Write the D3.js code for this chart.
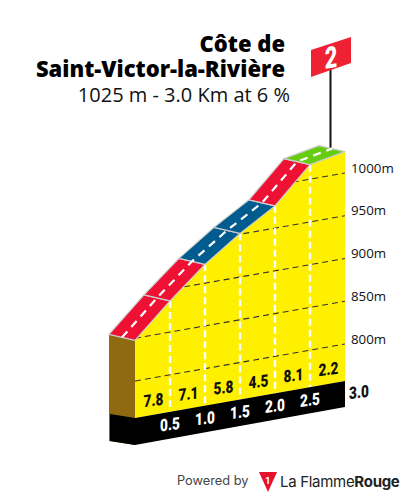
<!DOCTYPE html>
<html><head><meta charset="utf-8">
<script src="https://cdn.jsdelivr.net/npm/d3@7"></script>
<style>html,body{margin:0;padding:0;background:#fff}svg{display:block}</style></head>
<body><div id="c"></div>
<script>
const distances=[0,0.5,1.0,1.5,2.0,2.5,3.0];
const elevations=[847.5,886.5,922,951,976,1017,1025];
const gradientLabels=["7.8","7.1","5.8","4.5","8.1","2.2"];
const segmentClasses=["red","red","blue","blue","red","green"];
const distanceLabels=["0.5","1.0","1.5","2.0","2.5","3.0"];
const elevationTicks=[800,850,900,950,1000];
const titleLines=["Côte de","Saint-Victor-la-Rivière"];
const subtitle="1025 m - 3.0 Km at 6 %";
const climbCategory="2";

const W=405,H=498;
const colors={red:"#ee1133",blue:"#005b8f",green:"#66cc11"};
const svg=d3.select("#c").append("svg").attr("width",W).attr("height",H);
const x=d3.scaleLinear().domain([0,3]).range([135,345]);
const tilt=d3.scaleLinear().domain([0,3]).range([37,0]);
const yRight=d3.scaleLinear().domain([800,1000]).range([344,173]);
const baseElev=yRight.invert(381);
const px=(d,e)=>[x(d),yRight(e)+tilt(d)];
const back=([a,b])=>[a-26,b-6];
const pts=distances.map((d,i)=>px(d,elevations[i]));
const base=distances.map(d=>px(d,baseElev));
const line=d3.line();
const poly=p=>line(p)+"Z";

// front yellow
svg.append("clipPath").attr("id","yc").append("path").attr("d",poly(pts.concat(base.slice().reverse())));
svg.append("path").attr("d",poly(pts.concat(base.slice().reverse()))).attr("fill","#fff000");

// grid
const g=svg.append("g").attr("clip-path","url(#yc)");
g.selectAll("line.grid").data(elevationTicks).join("line").attr("class","grid")
 .attr("x1",x(0)).attr("x2",x(3))
 .attr("y1",e=>px(0,e)[1]).attr("y2",e=>px(3,e)[1])
 .attr("stroke","#333").attr("stroke-width",1.1).attr("stroke-dasharray","6 4");
g.selectAll("line.km").data(distances.slice(1,-1)).join("line").attr("class","km")
 .attr("x1",d=>x(d)).attr("x2",d=>x(d))
 .attr("y1",(d,i)=>pts[i+1][1]).attr("y2",(d,i)=>base[i+1][1])
 .attr("stroke","#fff").attr("stroke-width",2.4).attr("stroke-dasharray","7 4");

// left side
const bandH=27;
svg.append("path").attr("d",poly([back(pts[0]),pts[0],[x(0),base[0][1]+bandH],[back(pts[0])[0],base[0][1]+bandH-4]])).attr("fill","#8f6a10");
// black band
svg.append("path").attr("d",poly([[back(pts[0])[0]+1,base[0][1]-4],base[0],base[6],[x(3),base[6][1]+bandH-1],[x(0),base[0][1]+bandH],[back(pts[0])[0]+1,base[0][1]+bandH-4]])).attr("fill","#000");

// road
svg.selectAll("path.road").data(segmentClasses).join("path").attr("class","road")
 .attr("d",(c,i)=>poly([pts[i],pts[i+1],back(pts[i+1]),back(pts[i])]))
 .attr("fill",c=>colors[c]).attr("stroke","#ccc").attr("stroke-width",1.2).attr("stroke-linejoin","round");
svg.append("path").attr("d",line(pts.map(p=>[p[0]-13,p[1]-3])))
 .attr("fill","none").attr("stroke","#fff").attr("stroke-width",2.2).attr("stroke-dasharray","8 6");

// flag
const poleFoot=[pts[6][0]-14.5,pts[6][1]-4];
svg.append("line").attr("x1",poleFoot[0]).attr("x2",poleFoot[0]).attr("y1",poleFoot[1]).attr("y2",70).attr("stroke","#111").attr("stroke-width",2);
svg.append("path").attr("d",poly([[311,50],[351,37],[351,63],[311,77]])).attr("fill","#ee2233");
svg.append("text").text(climbCategory)
 .attr("transform","translate(331,68) matrix(0.72,-0.12,0,1,0,0)").attr("text-anchor","middle")
 .attr("font-family","Roboto").attr("font-weight",900).attr("font-size",30).attr("fill","#fff");

// elevation labels
svg.selectAll("text.el").data(elevationTicks).join("text").attr("class","el")
 .attr("x",351).attr("y",e=>yRight(e)-0.5).text(e=>e+"m")
 .attr("font-family","'Open Sans'").attr("font-size",13.3).attr("fill","#111");

const tl=(sel,cx,cy)=>sel.attr("transform",`translate(${cx},${cy}) matrix(0.8,-0.1,0,1,0,0)`)
 .attr("text-anchor","middle").attr("font-family","Roboto").attr("font-weight",900).attr("font-size",17);
// gradient labels
gradientLabels.forEach((t,i)=>{
 const mid=(distances[i]+distances[i+1])/2;
 const p=px(mid,baseElev);
 tl(svg.append("text").text(t),p[0]+1,p[1]-9).attr("fill","#111");
});
// distance labels
distanceLabels.forEach((t,i)=>{
 const p=px(distances[i+1],baseElev);
 const last=i===distanceLabels.length-1;
 tl(svg.append("text").text(t),last?p[0]+14:p[0],last?p[1]+17:p[1]+18.5).attr("fill",last?"#111":"#fff");
});

// title
svg.selectAll("text.t").data(titleLines).join("text").attr("class","t")
 .attr("x",285).attr("y",(d,i)=>52+i*25).attr("text-anchor","end").text(d=>d)
 .attr("font-family","'Open Sans'").attr("font-weight",800).attr("font-size",22).attr("fill","#000");
svg.append("text").attr("x",290).attr("y",102).attr("text-anchor","end").text(subtitle)
 .attr("font-family","'Open Sans'").attr("font-size",20).attr("fill","#111");

// footer
svg.append("text").attr("x",177).attr("y",485).text("Powered by")
 .attr("font-family","Inter").attr("font-size",12.8).attr("fill","#444");
svg.append("path").attr("d",poly([[259,472],[277,472],[268,492]])).attr("fill","#e8112d");
svg.append("text").attr("x",267.5).attr("y",484).attr("text-anchor","middle").text("1")
 .attr("font-family","Inter").attr("font-weight",700).attr("font-size",9).attr("fill","#fff");
const lf=svg.append("text").attr("x",280).attr("y",487).attr("font-family","Inter").attr("font-size",15).attr("fill","#222").attr("letter-spacing",-0.3);
lf.append("tspan").text("La Flamme");
lf.append("tspan").attr("font-weight",700).text("Rouge");
</script></body></html>
